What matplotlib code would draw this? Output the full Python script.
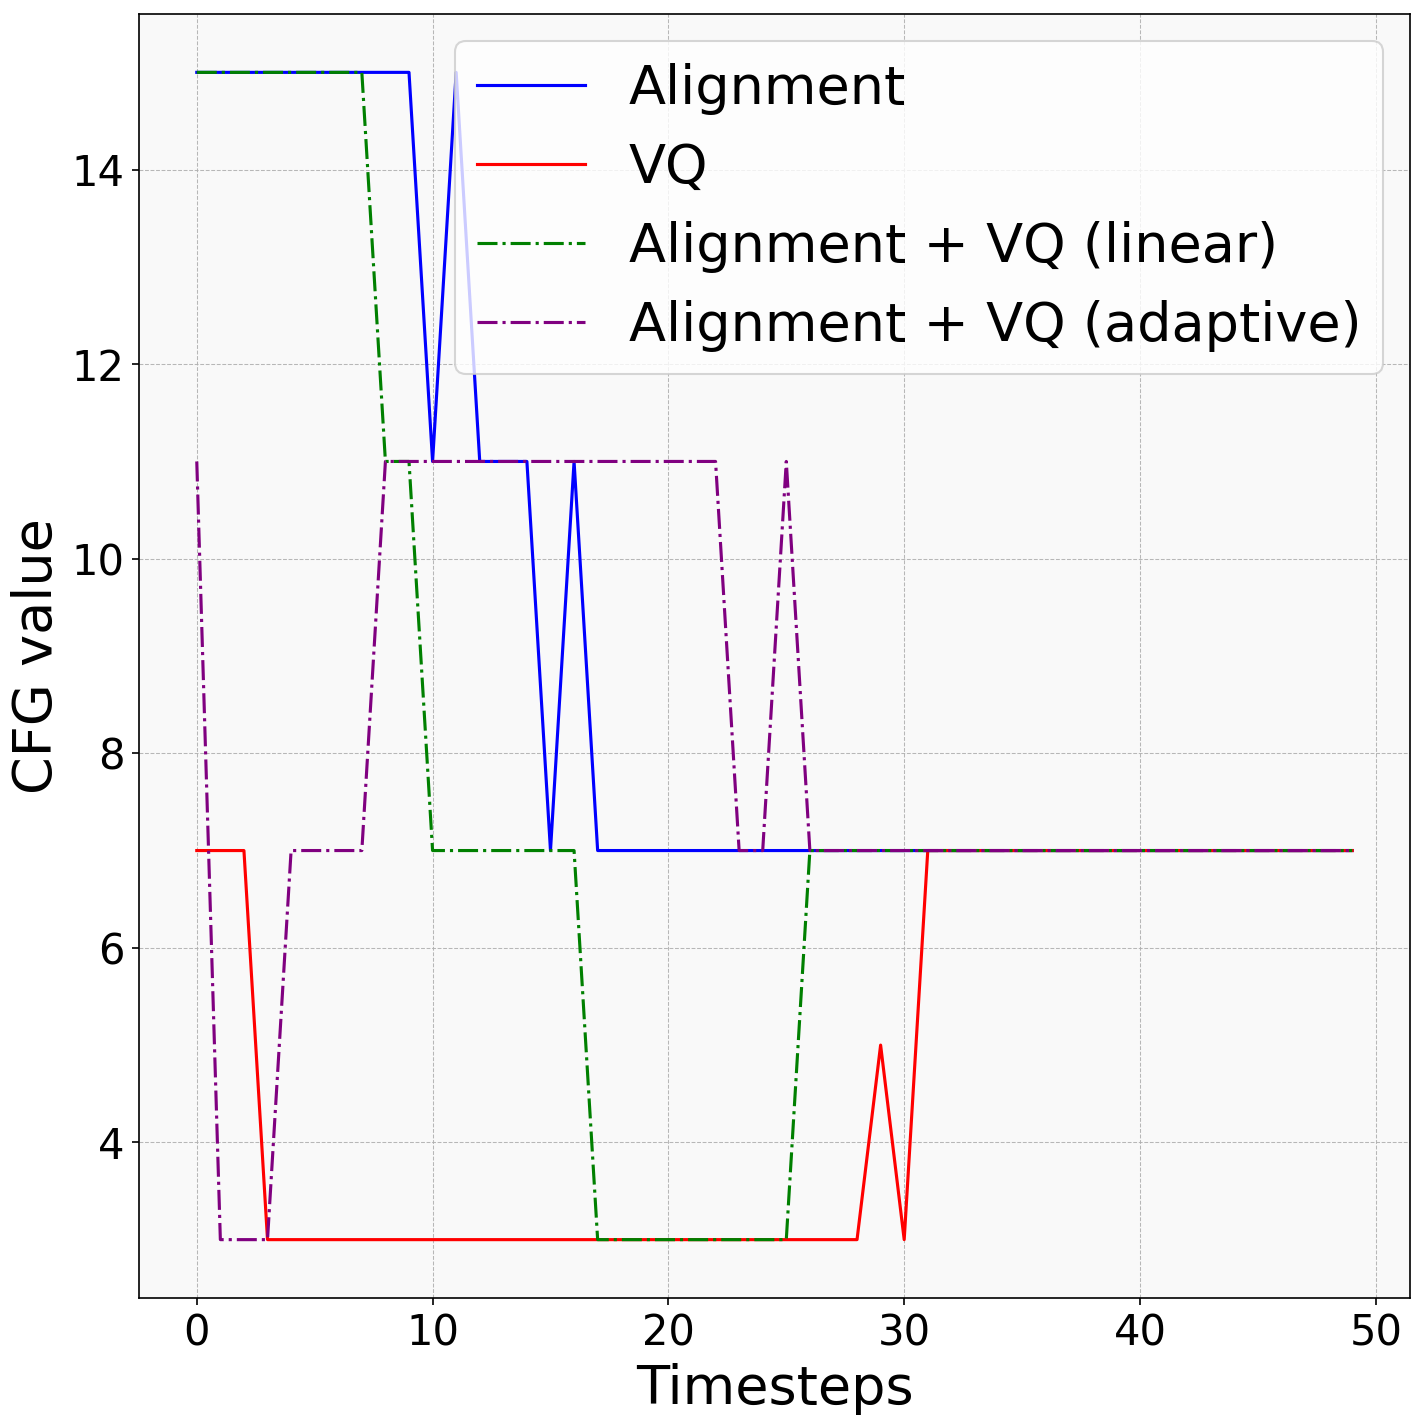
import matplotlib
matplotlib.use("Agg")
import matplotlib.pyplot as plt
import numpy as np

timesteps = list(range(50))
alignment = [15]*10 + [11, 15, 11, 11, 11, 7, 11] + [7]*33
vq = [7, 7, 7] + [3]*26 + [5, 3] + [7]*19
linear = [15]*8 + [11, 11] + [7]*7 + [3]*9 + [7]*24
adaptive = [11, 3, 3, 3, 7, 7, 7, 7] + [11]*15 + [7, 7, 11] + [7]*24

series_labels = ["Alignment", "VQ", "Alignment + VQ (linear)", "Alignment + VQ (adaptive)"]

fig = plt.figure(figsize=(1425/150, 1427/150), dpi=150)
ax = fig.add_axes([139/1425, 1 - 1298/1427, (1410-139)/1425, (1298-14)/1427])
ax.set_facecolor("#f9f9f9")

ax.plot(timesteps, alignment, color="blue", linestyle="-", linewidth=1.5, label=series_labels[0])
ax.plot(timesteps, vq, color="red", linestyle="-", linewidth=1.5, label=series_labels[1])
ax.plot(timesteps, linear, color="green", linestyle="-.", linewidth=1.5, label=series_labels[2])
ax.plot(timesteps, adaptive, color="purple", linestyle="-.", linewidth=1.5, label=series_labels[3])

ax.grid(True, linestyle="--", linewidth=0.5, color="#b0b0b0", alpha=0.9)
ax.set_xlabel("Timesteps", fontsize=26)
ax.set_ylabel("CFG value", fontsize=26)
ax.tick_params(axis="both", labelsize=20)
ax.legend(loc="upper right", fontsize=26)

fig.savefig("out.png", dpi=150)
